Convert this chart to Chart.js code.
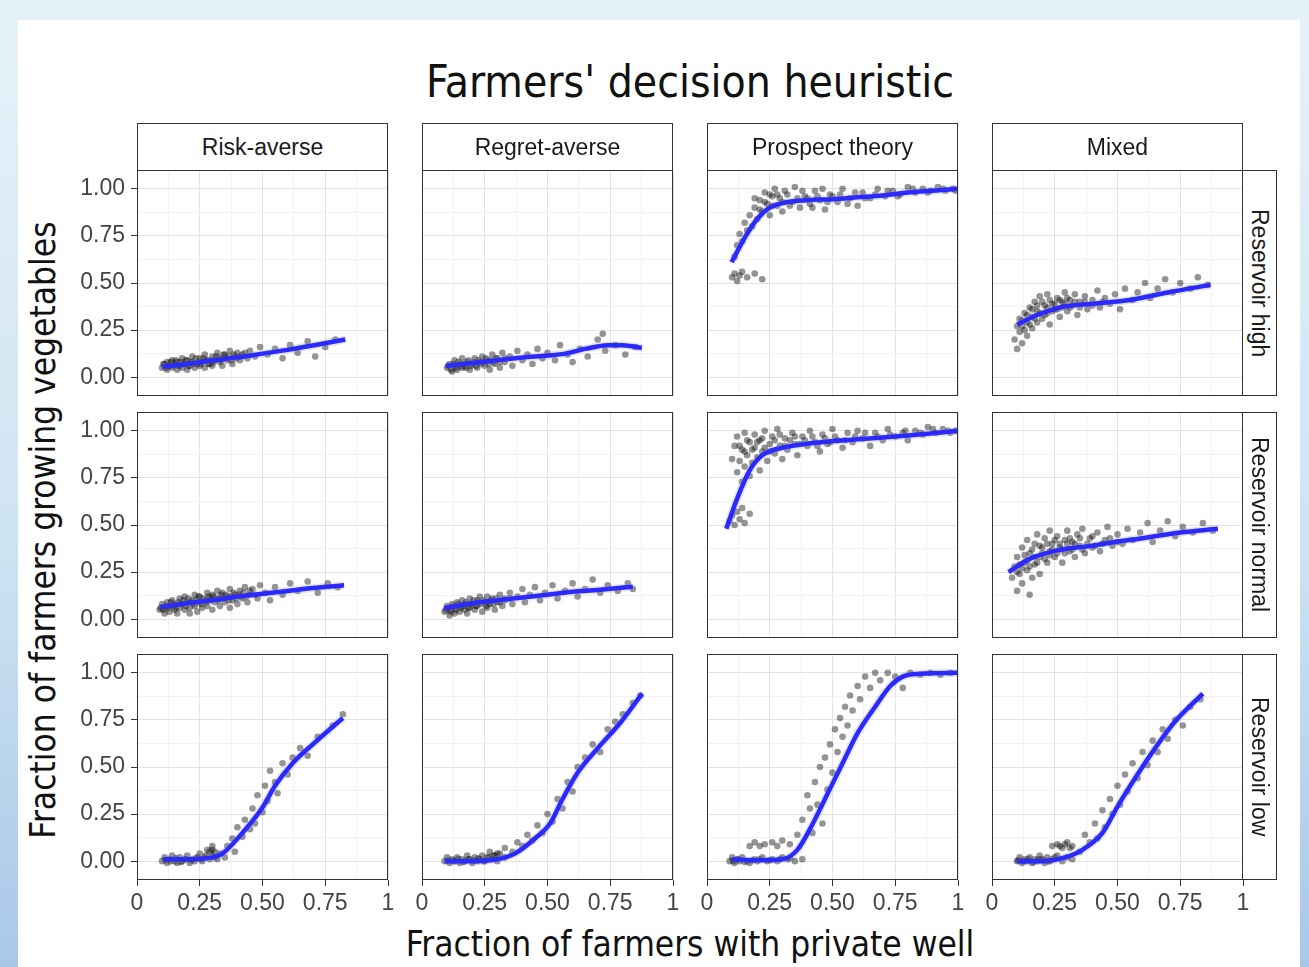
<!DOCTYPE html>
<html>
<head>
<meta charset="utf-8">
<script src="https://cdn.jsdelivr.net/npm/chart.js@4.4.1/dist/chart.umd.min.js"></script>
<style>
  html, body { margin: 0; padding: 0; }
  body {
    width: 1309px; height: 967px; overflow: hidden; position: relative;
    background: linear-gradient(180deg, #e6f2f9 0%, #cfe4f2 55%, #a8c8e8 100%);
    font-family: "Liberation Sans", Arial, sans-serif;
  }
  #sheet { position: absolute; left: 18px; top: 20px; width: 1282px; height: 947px; background: #fff; }
  canvas { position: absolute; }
  .cond { font-family: "DejaVu Sans Condensed", "DejaVu Sans", sans-serif; font-stretch: condensed; color: #111; }
  #title { position: absolute; left: 340px; width: 700px; top: 57px; line-height: 50px; text-align: center; font-size: 44px; }
  #xtitle { position: absolute; left: 340px; width: 700px; top: 922px; line-height: 44px; text-align: center; font-size: 35px; }
  #ytitle { position: absolute; left: 43px; top: 530px; width: 700px; line-height: 44px; text-align: center; font-size: 35px;
            transform: translate(-50%, -50%) rotate(-90deg); }
  .strip { position: absolute; box-sizing: border-box; border: 1px solid #333; background: #fff;
           display: flex; align-items: center; justify-content: center; font-size: 23px; color: #1a1a1a; }
  .strip.side { writing-mode: vertical-rl; }
</style>
</head>
<body>
<div id="sheet"></div>
<div id="title" class="cond">Farmers' decision heuristic</div>
<div id="xtitle" class="cond">Fraction of farmers with private well</div>
<div id="ytitle" class="cond">Fraction of farmers growing vegetables</div>
<script>
// facet labels
const heuristics = ["Risk-averse", "Regret-averse", "Prospect theory", "Mixed"];
const reservoirs = ["Reservoir high", "Reservoir normal", "Reservoir low"];

// ticks
const xTickVals = [0, 0.25, 0.5, 0.75, 1];
const xTickLabels = ["0", "0.25", "0.50", "0.75", "1"];
const yTickVals = [0, 0.25, 0.5, 0.75, 1];
const yTickLabels = ["0.00", "0.25", "0.50", "0.75", "1.00"];
const minorVals = [0.125, 0.375, 0.625, 0.875];

// --- Reservoir high ---
const riskHighPts = [[0.10,0.05],[0.11,0.07],[0.12,0.04],[0.12,0.08],[0.13,0.06],[0.14,0.05],[0.14,0.09],[0.15,0.07],[0.16,0.04],[0.16,0.08],[0.17,0.06],[0.18,0.10],[0.18,0.05],[0.19,0.07],[0.20,0.09],[0.20,0.04],[0.21,0.06],[0.22,0.08],[0.22,0.11],[0.23,0.05],[0.24,0.07],[0.25,0.10],[0.25,0.06],[0.26,0.08],[0.27,0.12],[0.27,0.05],[0.28,0.09],[0.29,0.07],[0.30,0.11],[0.30,0.06],[0.31,0.09],[0.32,0.13],[0.33,0.08],[0.34,0.10],[0.34,0.06],[0.35,0.12],[0.36,0.09],[0.37,0.14],[0.38,0.07],[0.39,0.11],[0.40,0.13],[0.41,0.09],[0.42,0.12],[0.44,0.10],[0.45,0.14],[0.47,0.11],[0.49,0.16],[0.52,0.12],[0.55,0.15],[0.58,0.10],[0.61,0.17],[0.64,0.13],[0.68,0.19],[0.71,0.11],[0.75,0.16],[0.79,0.20],
  [0.105,0.07],[0.115,0.05],[0.125,0.06],[0.135,0.08],[0.145,0.06],[0.155,0.09],[0.165,0.06],[0.175,0.08],[0.185,0.07],[0.195,0.09],[0.205,0.06],[0.215,0.08],[0.225,0.07],[0.235,0.10],[0.245,0.08],[0.255,0.07],[0.265,0.10],[0.275,0.09],[0.285,0.07],[0.295,0.09],[0.305,0.08],[0.315,0.11],[0.325,0.10],[0.335,0.09],[0.345,0.12],[0.355,0.10],[0.365,0.11],[0.375,0.09],[0.385,0.12],[0.395,0.10],[0.41,0.11],[0.43,0.13]];
const riskHighFit = [[0.10,0.055],[0.2,0.07],[0.3,0.088],[0.4,0.105],[0.5,0.125],[0.6,0.145],[0.7,0.168],[0.83,0.20]];

const regretHighPts = [[0.10,0.05],[0.11,0.07],[0.12,0.03],[0.13,0.06],[0.13,0.09],[0.14,0.04],[0.15,0.07],[0.16,0.05],[0.16,0.10],[0.17,0.06],[0.18,0.08],[0.19,0.04],[0.20,0.07],[0.21,0.10],[0.22,0.05],[0.23,0.08],[0.24,0.11],[0.25,0.06],[0.26,0.09],[0.27,0.04],[0.28,0.12],[0.29,0.07],[0.30,0.10],[0.31,0.05],[0.32,0.13],[0.33,0.08],[0.35,0.11],[0.36,0.06],[0.38,0.14],[0.40,0.09],[0.42,0.12],[0.44,0.07],[0.46,0.15],[0.48,0.10],[0.50,0.13],[0.53,0.09],[0.55,0.17],[0.58,0.12],[0.60,0.08],[0.63,0.15],[0.66,0.11],[0.70,0.20],[0.73,0.14],[0.72,0.23],[0.77,0.17],[0.81,0.12],[0.85,0.16],
  [0.105,0.06],[0.115,0.04],[0.125,0.07],[0.135,0.05],[0.145,0.08],[0.155,0.06],[0.165,0.07],[0.175,0.05],[0.185,0.09],[0.195,0.06],[0.205,0.08],[0.215,0.06],[0.225,0.09],[0.235,0.07],[0.245,0.08],[0.255,0.10],[0.265,0.07],[0.275,0.09],[0.285,0.08],[0.295,0.10],[0.31,0.08],[0.33,0.10]];
const regretHighFit = [[0.095,0.06],[0.2,0.075],[0.3,0.09],[0.4,0.105],[0.5,0.115],[0.57,0.125],[0.65,0.15],[0.74,0.17],[0.8,0.17],[0.876,0.155]];

const prospectHighPts = [[0.10,0.53],[0.11,0.55],[0.12,0.51],[0.13,0.54],[0.14,0.56],[0.16,0.53],[0.19,0.55],[0.22,0.52],[0.11,0.64],[0.12,0.70],[0.13,0.76],[0.14,0.72],[0.15,0.82],[0.16,0.78],[0.17,0.86],[0.18,0.80],[0.19,0.90],[0.20,0.84],[0.21,0.94],[0.22,0.88],[0.23,0.98],[0.24,0.92],[0.25,0.86],[0.26,0.96],[0.27,1.00],[0.28,0.91],[0.29,0.95],[0.30,0.88],[0.32,0.97],[0.34,0.93],[0.35,1.01],[0.37,0.90],[0.39,0.96],[0.41,0.92],[0.43,0.99],[0.45,0.94],[0.47,0.89],[0.49,0.97],[0.52,0.93],[0.54,1.00],[0.57,0.95],[0.60,0.91],[0.62,0.98],[0.65,0.95],[0.68,1.00],[0.71,0.96],[0.74,0.99],[0.77,0.97],[0.80,1.01],[0.83,0.98],[0.86,1.00],[0.89,0.99],[0.92,1.01],[0.95,0.99],[0.98,1.00],
  [0.19,0.95],[0.21,0.89],[0.23,0.93],[0.25,0.97],[0.26,0.91],[0.28,0.97],[0.30,0.93],[0.31,0.99],[0.33,0.91],[0.36,0.95],[0.38,0.99],[0.40,0.95],[0.42,0.90],[0.44,0.96],[0.46,1.00],[0.48,0.93],[0.50,0.96],[0.53,0.97],[0.56,0.92],[0.59,0.98],[0.63,0.95],[0.67,0.97],[0.72,0.99],[0.76,0.96],[0.82,1.00],[0.88,0.98],[0.94,1.00],[0.99,0.99]];
const prospectHighFit = [[0.098,0.61],[0.15,0.74],[0.2,0.84],[0.25,0.90],[0.32,0.93],[0.4,0.94],[0.5,0.945],[0.6,0.955],[0.7,0.965],[0.8,0.98],[0.9,0.99],[1.0,1.0]];

const mixedHighPts = [[0.09,0.20],[0.10,0.15],[0.11,0.24],[0.11,0.31],[0.12,0.18],[0.12,0.27],[0.13,0.34],[0.14,0.22],[0.14,0.29],[0.15,0.37],[0.16,0.26],[0.16,0.32],[0.17,0.40],[0.18,0.29],[0.18,0.35],[0.19,0.43],[0.20,0.31],[0.21,0.38],[0.22,0.34],[0.22,0.44],[0.23,0.28],[0.24,0.39],[0.25,0.36],[0.26,0.42],[0.27,0.32],[0.28,0.40],[0.29,0.45],[0.30,0.35],[0.31,0.41],[0.32,0.38],[0.33,0.44],[0.34,0.33],[0.35,0.40],[0.37,0.43],[0.38,0.36],[0.40,0.41],[0.42,0.46],[0.43,0.37],[0.45,0.42],[0.47,0.39],[0.49,0.44],[0.51,0.36],[0.53,0.47],[0.56,0.41],[0.58,0.45],[0.61,0.50],[0.63,0.42],[0.66,0.47],[0.69,0.52],[0.72,0.45],[0.75,0.50],[0.79,0.47],[0.82,0.53],[0.86,0.49],
  [0.10,0.27],[0.12,0.30],[0.13,0.25],[0.14,0.33],[0.15,0.28],[0.16,0.36],[0.17,0.31],[0.18,0.38],[0.19,0.34],[0.20,0.40],[0.21,0.33],[0.22,0.37],[0.23,0.41],[0.24,0.35],[0.25,0.39],[0.26,0.36],[0.27,0.41],[0.28,0.37],[0.29,0.39],[0.30,0.42],[0.31,0.37],[0.33,0.40],[0.35,0.37],[0.37,0.40],[0.40,0.38],[0.44,0.40]];
const mixedHighFit = [[0.10,0.28],[0.18,0.33],[0.27,0.37],[0.4,0.39],[0.55,0.41],[0.7,0.45],[0.87,0.49]];

// --- Reservoir normal ---
const riskNormalPts = [[0.09,0.05],[0.10,0.08],[0.11,0.03],[0.11,0.06],[0.12,0.09],[0.13,0.04],[0.13,0.07],[0.14,0.10],[0.15,0.05],[0.15,0.08],[0.16,0.03],[0.17,0.06],[0.17,0.11],[0.18,0.08],[0.19,0.05],[0.19,0.12],[0.20,0.09],[0.21,0.06],[0.21,0.03],[0.22,0.10],[0.23,0.07],[0.23,0.13],[0.24,0.04],[0.25,0.09],[0.25,0.12],[0.26,0.06],[0.27,0.10],[0.28,0.14],[0.28,0.07],[0.29,0.11],[0.30,0.05],[0.30,0.13],[0.31,0.09],[0.32,0.15],[0.33,0.07],[0.33,0.11],[0.34,0.14],[0.35,0.09],[0.36,0.12],[0.37,0.06],[0.37,0.16],[0.38,0.10],[0.39,0.13],[0.40,0.08],[0.41,0.15],[0.42,0.11],[0.43,0.17],[0.44,0.09],[0.45,0.13],[0.46,0.16],[0.48,0.11],[0.49,0.18],[0.51,0.14],[0.53,0.10],[0.55,0.17],[0.58,0.13],[0.61,0.19],[0.64,0.15],[0.68,0.20],[0.72,0.14],[0.76,0.19],[0.80,0.17],
  [0.095,0.06],[0.105,0.05],[0.115,0.07],[0.125,0.06],[0.135,0.09],[0.145,0.07],[0.155,0.06],[0.165,0.09],[0.175,0.08],[0.185,0.10],[0.195,0.07],[0.205,0.11],[0.215,0.09],[0.225,0.08],[0.235,0.10],[0.245,0.12],[0.255,0.08],[0.265,0.11],[0.275,0.09],[0.285,0.12],[0.295,0.10],[0.305,0.12],[0.315,0.11],[0.325,0.10],[0.335,0.13],[0.345,0.11],[0.355,0.13],[0.365,0.10],[0.375,0.12],[0.385,0.14],[0.395,0.11],[0.405,0.13],[0.415,0.12],[0.425,0.14],[0.435,0.12],[0.45,0.15],[0.47,0.13]];
const riskNormalFit = [[0.093,0.065],[0.2,0.085],[0.3,0.10],[0.4,0.12],[0.5,0.135],[0.6,0.15],[0.7,0.165],[0.825,0.18]];

const regretNormalPts = [[0.09,0.04],[0.10,0.07],[0.11,0.02],[0.11,0.05],[0.12,0.08],[0.13,0.03],[0.13,0.06],[0.14,0.09],[0.15,0.04],[0.15,0.07],[0.16,0.10],[0.17,0.05],[0.17,0.08],[0.18,0.03],[0.19,0.06],[0.19,0.11],[0.20,0.08],[0.21,0.05],[0.22,0.10],[0.22,0.07],[0.23,0.12],[0.24,0.04],[0.25,0.09],[0.26,0.06],[0.26,0.12],[0.27,0.08],[0.28,0.11],[0.29,0.05],[0.30,0.09],[0.31,0.13],[0.32,0.07],[0.33,0.11],[0.35,0.14],[0.36,0.08],[0.38,0.12],[0.40,0.16],[0.41,0.09],[0.43,0.13],[0.45,0.17],[0.47,0.10],[0.49,0.14],[0.52,0.18],[0.54,0.11],[0.57,0.15],[0.60,0.19],[0.62,0.12],[0.65,0.16],[0.68,0.21],[0.71,0.14],[0.74,0.18],[0.78,0.15],[0.82,0.19],[0.84,0.16],
  [0.095,0.05],[0.105,0.06],[0.115,0.04],[0.125,0.07],[0.135,0.05],[0.145,0.08],[0.155,0.06],[0.165,0.07],[0.175,0.09],[0.185,0.06],[0.195,0.08],[0.205,0.10],[0.215,0.07],[0.225,0.09],[0.235,0.08],[0.245,0.10],[0.255,0.07],[0.265,0.09],[0.275,0.10],[0.285,0.08],[0.295,0.11],[0.31,0.09],[0.33,0.10],[0.35,0.11]];
const regretNormalFit = [[0.088,0.058],[0.2,0.085],[0.3,0.10],[0.4,0.115],[0.5,0.13],[0.6,0.145],[0.7,0.155],[0.84,0.172]];

const prospectNormalPts = [[0.09,0.52],[0.10,0.55],[0.11,0.50],[0.12,0.57],[0.13,0.53],[0.14,0.59],[0.15,0.51],[0.17,0.56],[0.10,0.85],[0.11,0.92],[0.12,0.78],[0.12,0.97],[0.13,0.84],[0.14,0.90],[0.14,0.73],[0.15,0.99],[0.15,0.81],[0.16,0.87],[0.17,0.94],[0.17,0.76],[0.18,0.83],[0.19,0.91],[0.19,0.98],[0.20,0.86],[0.21,0.79],[0.21,0.95],[0.22,0.89],[0.23,1.00],[0.24,0.84],[0.25,0.93],[0.26,0.97],[0.27,0.88],[0.28,1.01],[0.29,0.92],[0.30,0.85],[0.31,0.96],[0.32,0.90],[0.34,0.99],[0.35,0.93],[0.36,0.87],[0.38,0.97],[0.40,0.92],[0.41,1.00],[0.43,0.94],[0.45,0.89],[0.46,0.98],[0.48,0.93],[0.50,1.01],[0.52,0.95],[0.54,0.91],[0.56,0.99],[0.58,0.94],[0.60,1.00],[0.62,0.96],[0.65,0.92],[0.67,0.99],[0.70,0.95],[0.72,1.01],[0.75,0.97],[0.78,0.99],[0.80,0.95],[0.83,1.00],[0.86,0.98],[0.88,1.02],[0.91,0.99],[0.94,1.01],[0.97,0.99],[0.99,1.00],
  [0.13,0.92],[0.15,0.89],[0.16,0.95],[0.18,0.90],[0.20,0.94],[0.22,0.96],[0.23,0.91],[0.25,0.89],[0.27,0.95],[0.29,0.98],[0.31,0.92],[0.33,0.95],[0.35,0.97],[0.37,0.93],[0.39,0.95],[0.42,0.97],[0.44,0.92],[0.47,0.96],[0.49,0.94],[0.51,0.97],[0.55,0.95],[0.59,0.97],[0.63,0.99],[0.68,0.97],[0.73,0.98],[0.79,1.00],[0.85,0.99],[0.90,1.01],[0.96,1.00]];
const prospectNormalFit = [[0.077,0.48],[0.12,0.64],[0.17,0.79],[0.22,0.87],[0.3,0.91],[0.42,0.935],[0.6,0.955],[0.8,0.975],[1.0,1.0]];

const mixedNormalPts = [[0.08,0.22],[0.09,0.28],[0.10,0.15],[0.10,0.33],[0.11,0.24],[0.12,0.38],[0.12,0.19],[0.13,0.30],[0.14,0.42],[0.14,0.26],[0.15,0.13],[0.15,0.35],[0.16,0.22],[0.17,0.40],[0.17,0.29],[0.18,0.45],[0.19,0.33],[0.19,0.24],[0.20,0.38],[0.21,0.43],[0.22,0.30],[0.23,0.36],[0.23,0.47],[0.24,0.40],[0.25,0.33],[0.26,0.44],[0.27,0.38],[0.28,0.30],[0.29,0.42],[0.30,0.47],[0.31,0.36],[0.32,0.41],[0.33,0.33],[0.34,0.45],[0.35,0.39],[0.36,0.48],[0.37,0.35],[0.39,0.43],[0.40,0.38],[0.42,0.46],[0.43,0.36],[0.45,0.42],[0.46,0.49],[0.48,0.39],[0.50,0.45],[0.52,0.40],[0.54,0.48],[0.56,0.42],[0.59,0.46],[0.62,0.51],[0.64,0.41],[0.67,0.47],[0.70,0.52],[0.73,0.44],[0.76,0.49],[0.80,0.46],[0.84,0.51],[0.88,0.47],
  [0.10,0.25],[0.11,0.29],[0.12,0.27],[0.13,0.34],[0.14,0.31],[0.15,0.28],[0.16,0.37],[0.17,0.33],[0.18,0.30],[0.19,0.39],[0.20,0.35],[0.21,0.32],[0.22,0.40],[0.23,0.34],[0.24,0.37],[0.25,0.42],[0.26,0.35],[0.27,0.40],[0.28,0.37],[0.29,0.35],[0.30,0.40],[0.31,0.43],[0.32,0.37],[0.33,0.40],[0.35,0.43],[0.36,0.37],[0.38,0.40],[0.40,0.44],[0.41,0.39],[0.44,0.40],[0.47,0.43],[0.50,0.41]];
const mixedNormalFit = [[0.066,0.25],[0.15,0.32],[0.26,0.365],[0.4,0.39],[0.49,0.41],[0.6,0.43],[0.75,0.46],[0.9,0.48]];

// --- Reservoir low ---
const riskLowPts = [[0.10,0.00],[0.11,0.02],[0.12,-0.01],[0.13,0.01],[0.14,0.03],[0.15,0.00],[0.16,-0.01],[0.17,0.02],[0.18,0.00],[0.19,0.01],[0.20,0.03],[0.21,-0.01],[0.22,0.01],[0.23,0.00],[0.24,0.02],[0.25,0.04],[0.26,0.00],[0.27,0.02],[0.28,0.06],[0.29,0.01],[0.30,0.08],[0.30,0.03],[0.31,0.05],[0.32,0.01],[0.33,0.04],[0.35,0.02],[0.36,0.08],[0.38,0.12],[0.39,0.05],[0.40,0.18],[0.42,0.13],[0.43,0.22],[0.45,0.17],[0.46,0.28],[0.47,0.20],[0.48,0.35],[0.50,0.26],[0.51,0.40],[0.52,0.32],[0.53,0.48],[0.55,0.42],[0.56,0.36],[0.58,0.52],[0.60,0.46],[0.62,0.55],[0.65,0.60],[0.68,0.56],[0.72,0.66],[0.78,0.72],[0.82,0.78],
  [0.115,0.005],[0.135,0.0],[0.155,0.015],[0.175,-0.005],[0.195,0.01],[0.215,0.005],[0.235,0.015],[0.255,0.01],[0.275,0.03],[0.29,0.05],[0.31,0.02],[0.30,0.06]];
const riskLowFit = [[0.105,0.01],[0.2,0.01],[0.3,0.02],[0.34,0.04],[0.42,0.15],[0.5,0.285],[0.55,0.40],[0.62,0.52],[0.7,0.62],[0.82,0.76]];

const regretLowPts = [[0.09,0.00],[0.10,0.02],[0.11,-0.01],[0.12,0.01],[0.13,0.00],[0.14,0.02],[0.15,-0.01],[0.16,0.01],[0.17,0.00],[0.18,0.03],[0.19,0.01],[0.20,-0.01],[0.21,0.02],[0.22,0.00],[0.23,0.01],[0.24,0.03],[0.25,0.00],[0.26,0.02],[0.27,0.05],[0.28,0.01],[0.29,0.03],[0.30,0.00],[0.31,0.04],[0.33,0.02],[0.33,0.07],[0.36,0.05],[0.38,0.10],[0.40,0.08],[0.42,0.14],[0.44,0.11],[0.46,0.19],[0.48,0.15],[0.50,0.25],[0.52,0.21],[0.54,0.33],[0.56,0.28],[0.58,0.42],[0.60,0.37],[0.62,0.50],[0.65,0.55],[0.68,0.62],[0.71,0.58],[0.74,0.70],[0.77,0.74],[0.80,0.78],[0.84,0.84],[0.87,0.88],
  [0.105,0.005],[0.125,0.0],[0.145,0.01],[0.165,-0.005],[0.185,0.01],[0.205,0.005],[0.225,0.015],[0.245,0.0],[0.265,0.02],[0.285,0.03],[0.30,0.04]];
const regretLowFit = [[0.09,0.0],[0.2,0.0],[0.3,0.01],[0.37,0.04],[0.45,0.12],[0.51,0.2],[0.56,0.33],[0.62,0.47],[0.7,0.60],[0.79,0.735],[0.877,0.89]];

const prospectLowPts = [[0.09,0.00],[0.10,0.02],[0.11,-0.01],[0.12,0.01],[0.13,0.00],[0.14,0.02],[0.16,0.00],[0.17,-0.01],[0.19,0.01],[0.20,0.00],[0.22,0.02],[0.24,0.00],[0.26,0.01],[0.28,0.00],[0.30,0.02],[0.32,0.01],[0.35,0.00],[0.17,0.08],[0.19,0.10],[0.21,0.08],[0.23,0.09],[0.26,0.10],[0.28,0.08],[0.30,0.11],[0.33,0.09],[0.36,0.14],[0.38,0.22],[0.40,0.35],[0.41,0.28],[0.42,0.15],[0.43,0.42],[0.44,0.30],[0.45,0.50],[0.46,0.20],[0.47,0.55],[0.48,0.38],[0.49,0.62],[0.50,0.47],[0.51,0.70],[0.52,0.58],[0.53,0.76],[0.54,0.66],[0.55,0.82],[0.56,0.72],[0.57,0.88],[0.58,0.80],[0.60,0.93],[0.61,0.86],[0.63,0.98],[0.65,0.92],[0.67,1.00],[0.69,0.96],[0.72,1.00],[0.75,0.98],[0.78,0.92],[0.81,1.00],[0.85,0.99],[0.89,1.00],[0.93,0.99],[0.97,1.00],
  [0.105,0.0],[0.125,0.01],[0.15,-0.005],[0.18,0.005],[0.21,0.01],[0.25,0.005],[0.29,0.01],[0.33,0.015],[0.38,0.01]];
const prospectLowFit = [[0.10,0.01],[0.2,0.005],[0.3,0.01],[0.36,0.06],[0.41,0.17],[0.47,0.33],[0.54,0.52],[0.6,0.68],[0.67,0.82],[0.73,0.93],[0.78,0.98],[0.85,0.995],[1.0,1.0]];

const mixedLowPts = [[0.10,0.00],[0.11,0.02],[0.12,-0.01],[0.13,0.01],[0.14,0.00],[0.15,0.02],[0.16,-0.01],[0.17,0.01],[0.18,0.00],[0.19,0.03],[0.20,0.01],[0.21,-0.01],[0.22,0.02],[0.23,0.00],[0.24,0.01],[0.26,0.03],[0.28,0.00],[0.30,0.02],[0.32,0.01],[0.24,0.08],[0.26,0.09],[0.28,0.07],[0.30,0.10],[0.32,0.08],[0.35,0.05],[0.37,0.14],[0.39,0.10],[0.41,0.20],[0.42,0.12],[0.44,0.27],[0.45,0.18],[0.47,0.33],[0.48,0.25],[0.50,0.40],[0.51,0.30],[0.53,0.46],[0.54,0.37],[0.56,0.52],[0.58,0.44],[0.60,0.58],[0.62,0.51],[0.64,0.64],[0.66,0.58],[0.68,0.70],[0.70,0.65],[0.73,0.75],[0.76,0.72],[0.79,0.82],[0.83,0.86],
  [0.105,0.005],[0.125,0.0],[0.145,0.01],[0.165,-0.005],[0.185,0.01],[0.205,0.005],[0.225,0.0],[0.25,0.02],[0.27,0.08],[0.29,0.09],[0.31,0.07]];
const mixedLowFit = [[0.10,0.0],[0.2,0.0],[0.29,0.02],[0.36,0.06],[0.44,0.15],[0.5,0.29],[0.57,0.44],[0.65,0.60],[0.725,0.735],[0.84,0.89]];

const panelPts = [
  [riskHighPts, regretHighPts, prospectHighPts, mixedHighPts],
  [riskNormalPts, regretNormalPts, prospectNormalPts, mixedNormalPts],
  [riskLowPts, regretLowPts, prospectLowPts, mixedLowPts]
];
const panelFit = [
  [riskHighFit, regretHighFit, prospectHighFit, mixedHighFit],
  [riskNormalFit, regretNormalFit, prospectNormalFit, mixedNormalFit],
  [riskLowFit, regretLowFit, prospectLowFit, mixedLowFit]
];

// layout
const colLeft = [137, 422, 707, 992];
const rowTop = [170, 412, 654];
const PW = 251, PH = 226;
const PAD = 14, PADV = 26, Y_AXIS_W = 80, X_AXIS_H = 48;

const isMajor = v => xTickVals.some(t => Math.abs(t - v) < 1e-6);
const allGrid = xTickVals.concat(minorVals).sort((a, b) => a - b);
const toXY = arr => arr.map(p => ({ x: p[0], y: p[1] }));

const framePlugin = {
  id: "frame",
  afterDraw(chart) {
    const a = chart.chartArea, ctx = chart.ctx;
    ctx.save();
    ctx.strokeStyle = "#333";
    ctx.lineWidth = 1;
    ctx.strokeRect(a.left + 0.5, a.top + 0.5, a.right - a.left - 1, a.bottom - a.top - 1);
    ctx.restore();
  }
};

const tickFont = { family: "Liberation Sans", size: 23 };

function gridOpts(showTicks) {
  return {
    color: c => isMajor(c.tick.value) ? "#e3e3e3" : "#f2f2f2",
    lineWidth: 1,
    drawTicks: showTicks,
    tickLength: 6,
    tickColor: c => isMajor(c.tick.value) ? "#333" : "rgba(0,0,0,0)"
  };
}

function makePanel(r, c) {
  const first = c === 0, bottom = r === reservoirs.length - 1;
  const yW = first ? Y_AXIS_W : 0;
  const xH = bottom ? X_AXIS_H : 0;
  const w = PAD + yW + PW + PAD, h = PADV + PH + xH + PADV;
  const cv = document.createElement("canvas");
  cv.width = w; cv.height = h;
  cv.style.left = (colLeft[c] - PAD - yW) + "px";
  cv.style.top = (rowTop[r] - PADV) + "px";
  cv.style.width = w + "px"; cv.style.height = h + "px";
  document.body.appendChild(cv);

  new Chart(cv, {
    type: "scatter",
    data: {
      datasets: [
        {
          type: "line", data: toXY(panelFit[r][c]), order: 0,
          borderColor: "#2a2aff", borderWidth: 4.5, pointRadius: 0,
          cubicInterpolationMode: "monotone", fill: false
        },
        {
          type: "line", data: toXY(panelFit[r][c]), order: 1,
          borderColor: "rgba(150,150,170,0.25)", borderWidth: 8, pointRadius: 0,
          cubicInterpolationMode: "monotone", fill: false
        },
        {
          data: toXY(panelPts[r][c]), order: 2,
          pointRadius: 3.3, pointBorderWidth: 0,
          backgroundColor: "rgba(0,0,0,0.42)"
        }
      ]
    },
    options: {
      responsive: false,
      animation: false,
      layout: { padding: { left: PAD, right: PAD, top: PADV, bottom: PADV } },
      plugins: { legend: { display: false }, tooltip: { enabled: false } },
      scales: {
        x: {
          type: "linear", min: 0, max: 1,
          afterBuildTicks: s => { s.ticks = allGrid.map(v => ({ value: v })); },
          afterFit: s => { s.height = xH; },
          ticks: {
            display: bottom, autoSkip: false, maxRotation: 0, padding: 4,
            color: "#444", font: tickFont,
            callback: v => { const i = xTickVals.findIndex(t => Math.abs(t - v) < 1e-6); return i >= 0 ? xTickLabels[i] : ""; }
          },
          grid: gridOpts(bottom),
          border: { display: false }
        },
        y: {
          type: "linear", min: -0.1, max: 1.1,
          afterBuildTicks: s => { s.ticks = allGrid.map(v => ({ value: v })); },
          afterFit: s => { s.width = yW; },
          ticks: {
            display: first, autoSkip: false, padding: 6,
            color: "#444", font: tickFont,
            callback: v => { const i = yTickVals.findIndex(t => Math.abs(t - v) < 1e-6); return i >= 0 ? yTickLabels[i] : ""; }
          },
          grid: gridOpts(first),
          border: { display: false }
        }
      }
    },
    plugins: [framePlugin]
  });
}

function makeStrips() {
  heuristics.forEach((name, c) => {
    const d = document.createElement("div");
    d.className = "strip";
    d.style.left = colLeft[c] + "px"; d.style.top = "123px";
    d.style.width = PW + "px"; d.style.height = "48px";
    d.textContent = name;
    document.body.appendChild(d);
  });
  reservoirs.forEach((name, r) => {
    const d = document.createElement("div");
    d.className = "strip side";
    d.style.left = (colLeft[3] + PW - 1) + "px"; d.style.top = rowTop[r] + "px";
    d.style.width = "35px"; d.style.height = PH + "px";
    d.textContent = name;
    document.body.appendChild(d);
  });
}

for (let r = 0; r < reservoirs.length; r++) {
  for (let c = 0; c < heuristics.length; c++) makePanel(r, c);
}
makeStrips();
</script>
</body>
</html>
